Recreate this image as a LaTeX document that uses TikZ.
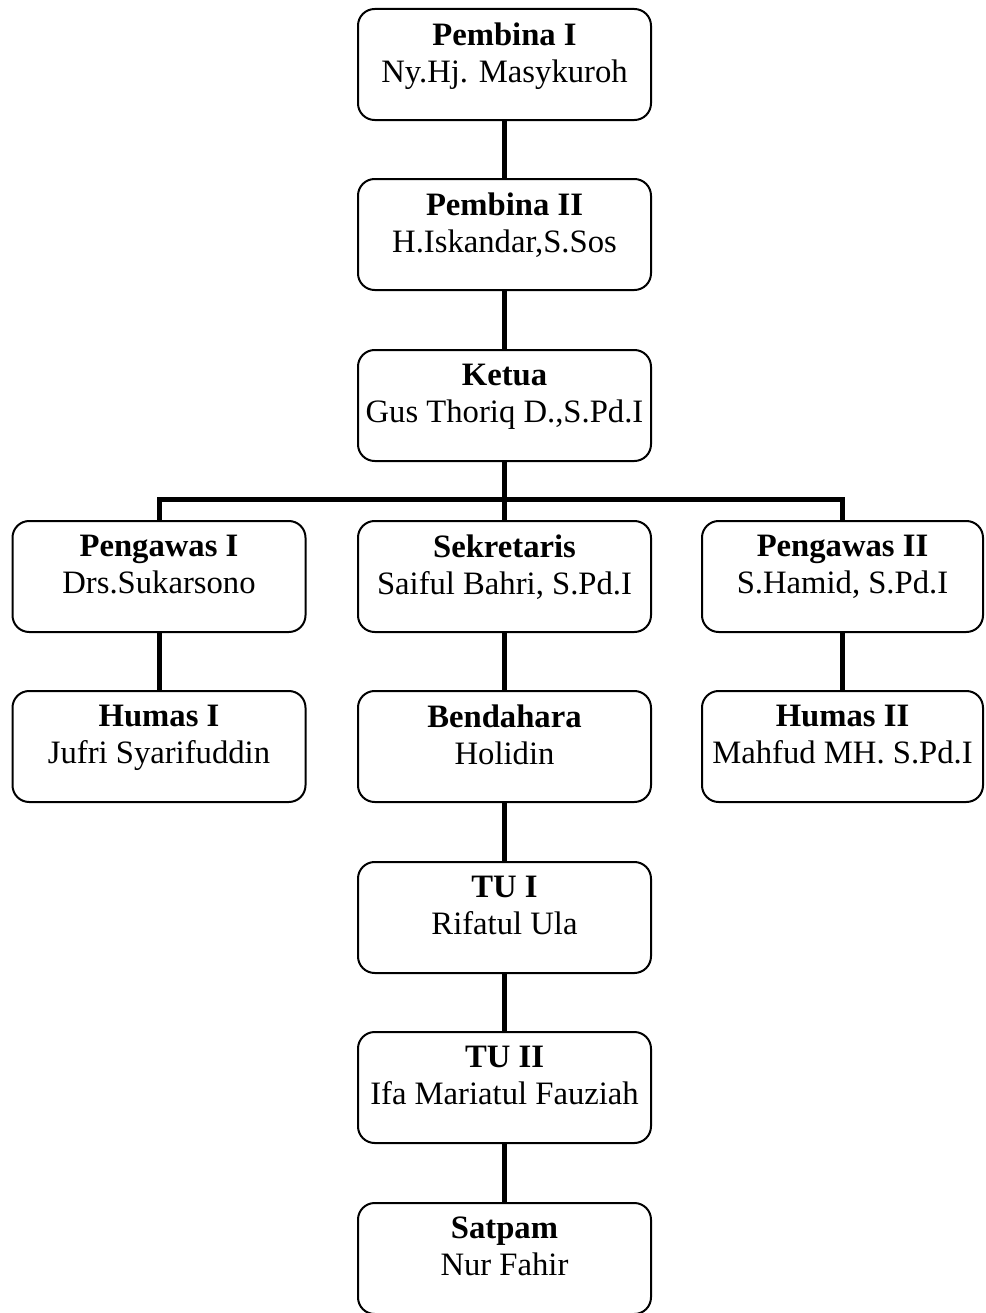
\documentclass[tikz,border=0pt]{standalone}
\usepackage{fontspec}
\setmainfont{Liberation Serif}
\usetikzlibrary{positioning}
\tikzset{
	org/.style={rectangle, draw=black, line width=1.5pt, rounded corners=12.5pt, align=center, inner sep=0pt, minimum width=219.75pt, minimum height=83.25pt, font=\fontsize{24.5}{27.75}\selectfont, execute at end node={\rule[-18pt]{0pt}{0pt}}},
	orgr/.style={org, minimum width=210.75pt},
	link/.style={line width=3.75pt}
}

\begin{document}
\begin{tikzpicture}[x=0.75pt, y=-0.75pt]
	\useasboundingbox (0,0) rectangle (985,1313);
	\node (pb1) at (504.5,64.5)[org]{\textbf{Pembina I}\\Ny.Hj. Masykuroh};
	\node (pb2) at (504.5,234.5)[org]{\textbf{Pembina II}\\H.Iskandar,S.Sos};
	\node (ket) at (504.5,405.5)[org]{\textbf{Ketua}\\Gus Thoriq D.,S.Pd.I};
	\node (pw1) at (159,576.5)[org]{\textbf{Pengawas I}\\Drs.Sukarsono};
	\node (sek) at (504.5,576.5)[org]{\textbf{Sekretaris}\\Saiful Bahri, S.Pd.I};
	\node (pw2) at (842.5,576.5)[orgr]{\textbf{Pengawas II}\\S.Hamid, S.Pd.I};
	\node (hm1) at (159,746.5)[org]{\textbf{Humas I}\\Jufri Syarifuddin};
	\node (ben) at (504.5,746.5)[org]{\textbf{Bendahara}\\Holidin};
	\node (hm2) at (842.5,746.5)[orgr]{\textbf{Humas II}\\Mahfud MH. S.Pd.I};
	\node (tu1) at (504.5,917.5)[org]{\textbf{TU I}\\Rifatul Ula};
	\node (tu2) at (504.5,1087.5)[org]{\textbf{TU II}\\Ifa Mariatul Fauziah};
	\node (sat) at (504.5,1258.5)[org]{\textbf{Satpam}\\Nur Fahir};
	\coordinate (bus) at (504.5,499);
	\draw[link] (pb1.south) -- (pb2.north);
	\draw[link] (pb2.south) -- (ket.north);
	\draw[link] (ket.south) -- (sek.north);
	\draw[link] (pw1.north) |- (bus) -| (pw2.north);
	\draw[link] (pw1.south) -- (hm1.north);
	\draw[link] (sek.south) -- (ben.north);
	\draw[link] (pw2.south) -- (hm2.north);
	\draw[link] (ben.south) -- (tu1.north);
	\draw[link] (tu1.south) -- (tu2.north);
	\draw[link] (tu2.south) -- (sat.north);
\end{tikzpicture}
\end{document}
